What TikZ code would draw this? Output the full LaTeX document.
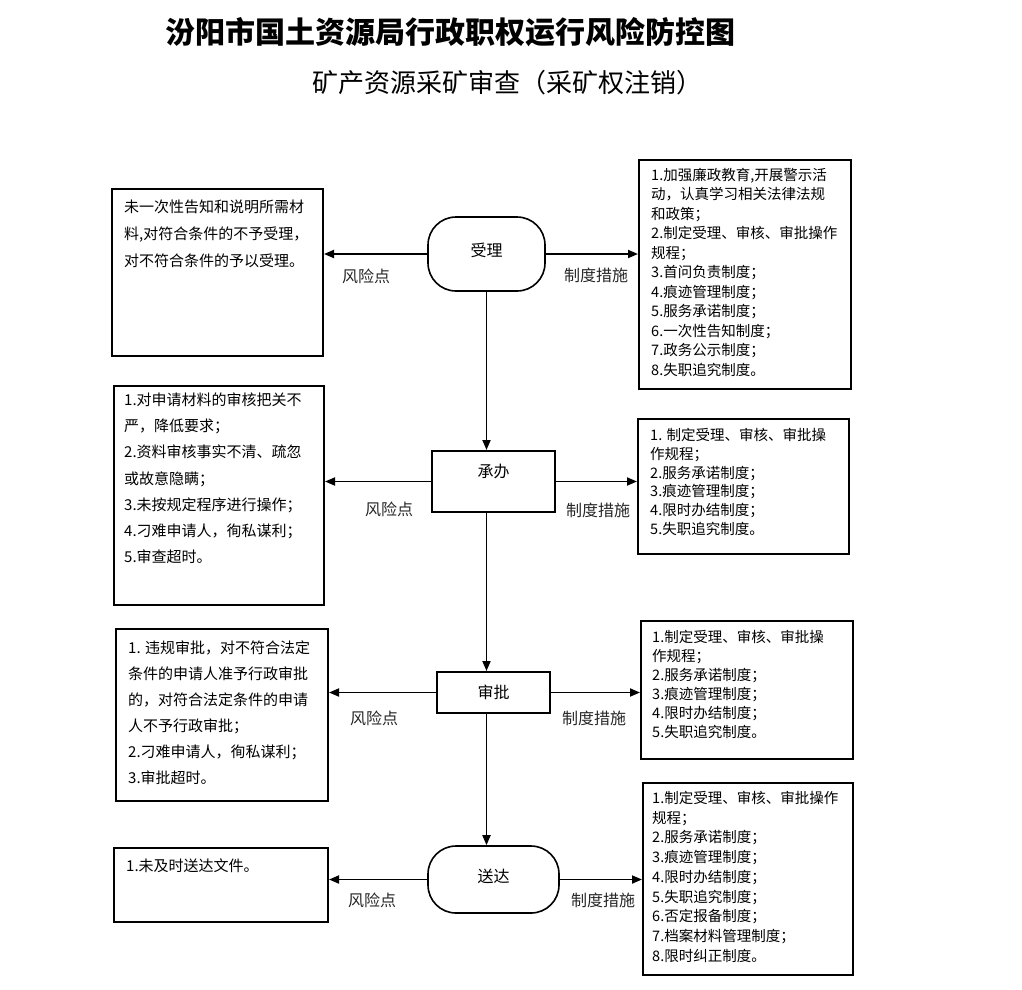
\documentclass[tikz,border=0pt]{standalone}
\usepackage{fontspec}
\setmainfont{Noto Sans CJK SC}
\usetikzlibrary{arrows.meta}
\begin{document}
\begin{tikzpicture}[x=1pt,y=-1pt,
 box/.style={draw, line width=2pt, inner sep=0pt, anchor=north west},
 term/.style={draw, line width=1.6pt, rounded corners=28pt, inner sep=0pt, font=\fontsize{16}{16}\selectfont},
 proc/.style={draw, line width=2pt, inner sep=0pt, font=\fontsize{16}{16}\selectfont},
 ltxt/.style={anchor=north west, inner sep=0pt, align=left},
 lab/.style={font=\fontsize{16}{16}\selectfont, text=black!85},
 arr/.style={line width=1.8pt, -{Triangle[length=10pt,width=8pt]}}]

\useasboundingbox (0,0) rectangle (1022,989);

% titles
\node[font=\fontsize{30}{30}\selectfont\bfseries] (title) at (450,32) {汾阳市国土资源局行政职权运行风险防控图};
\node[font=\fontsize{26}{26}\selectfont] (sub) at (507,83) {矿产资源采矿审查（采矿权注销）};

% central flow
\node[term, minimum width=117pt, minimum height=74pt, text height=14pt, text depth=10pt] (shouli) at (486.5,254) {受理};
\node[proc, minimum width=123pt, minimum height=61pt, text height=12pt, text depth=20pt] (chengban) at (493.5,481.5) {承办};
\node[proc, minimum width=113pt, minimum height=41pt] (shenpi) at (493.5,692.5) {审批};
\node[term, minimum width=131pt, minimum height=67pt, text height=14pt, text depth=9pt] (songda) at (493.5,879.5) {送达};

% left boxes
\node[box, minimum width=211pt, minimum height=167pt] (L1) at (111,188) {};
\node[box, minimum width=210pt, minimum height=219pt] (L2) at (113,385) {};
\node[box, minimum width=212pt, minimum height=172pt] (L3) at (115,628) {};
\node[box, minimum width=214pt, minimum height=74pt] (L4) at (113,847) {};

% right boxes
\node[box, minimum width=212pt, minimum height=229pt] (R1) at (638,159) {};
\node[box, minimum width=211pt, minimum height=135pt] (R2) at (637,418) {};
\node[box, minimum width=212pt, minimum height=138pt] (R3) at (640,620) {};
\node[box, minimum width=210pt, minimum height=192pt] (R4) at (642,782) {};

% left texts
\node[ltxt, font=\fontsize{15}{27}\selectfont] (L1t) at (124,199.5) {未一次性告知和说明所需材\\料,对符合条件的不予受理，\\对不符合条件的予以受理。};
\node[ltxt, font=\fontsize{15}{26.2}\selectfont] (L2t) at (124,392.5) {1.对申请材料的审核把关不\\严，降低要求；\\2.资料审核事实不清、疏忽\\或故意隐瞒；\\3.未按规定程序进行操作；\\4.刁难申请人，徇私谋利；\\5.审查超时。};
\node[ltxt, font=\fontsize{15}{26}\selectfont] (L3t) at (128,640.5) {1. 违规审批，对不符合法定\\条件的申请人准予行政审批\\的，对符合法定条件的申请\\人不予行政审批；\\2.刁难申请人，徇私谋利；\\3.审批超时。};
\node[ltxt, font=\fontsize{15}{26}\selectfont] (L4t) at (126,858.5) {1.未及时送达文件。};

% right texts
\node[ltxt, font=\fontsize{14.5}{19.5}\selectfont] (R1t) at (651,168) {1.加强廉政教育,开展警示活\\动，认真学习相关法律法规\\和政策；\\2.制定受理、审核、审批操作\\规程；\\3.首问负责制度；\\4.痕迹管理制度；\\5.服务承诺制度；\\6.一次性告知制度；\\7.政务公示制度；\\8.失职追究制度。};
\node[ltxt, font=\fontsize{14.5}{18.8}\selectfont] (R2t) at (650,428) {1. 制定受理、审核、审批操\\作规程；\\2.服务承诺制度；\\3.痕迹管理制度；\\4.限时办结制度；\\5.失职追究制度。};
\node[ltxt, font=\fontsize{14.5}{19}\selectfont] (R3t) at (652,630) {1.制定受理、审核、审批操\\作规程；\\2.服务承诺制度；\\3.痕迹管理制度；\\4.限时办结制度；\\5.失职追究制度。};
\node[ltxt, font=\fontsize{14.5}{19.7}\selectfont] (R4t) at (652,791) {1.制定受理、审核、审批操作\\规程；\\2.服务承诺制度；\\3.痕迹管理制度；\\4.限时办结制度；\\5.失职追究制度；\\6.否定报备制度；\\7.档案材料管理制度；\\8.限时纠正制度。};

% labels
\node[lab] (f1) at (366,276) {风险点};
\node[lab] (f2) at (389,509) {风险点};
\node[lab] (f3) at (374,718) {风险点};
\node[lab] (f4) at (372,900) {风险点};
\node[lab] (z1) at (596,275) {制度措施};
\node[lab] (z2) at (598,510) {制度措施};
\node[lab] (z3) at (594,718) {制度措施};
\node[lab] (z4) at (603,900) {制度措施};

% connectors
\draw[arr] (shouli.west) -- (shouli.west -| L1.east);
\draw[arr] (shouli.east) -- (shouli.east -| R1.west);
\draw[arr] (chengban.west) -- (chengban.west -| L2.east);
\draw[arr] (chengban.east) -- (chengban.east -| R2.west);
\draw[arr] (shenpi.west) -- (shenpi.west -| L3.east);
\draw[arr] (shenpi.east) -- (shenpi.east -| R3.west);
\draw[arr] (songda.west) -- (songda.west -| L4.east);
\draw[arr] (songda.east) -- (songda.east -| R4.west);

\draw[arr] (shouli.south) -- (shouli.south |- chengban.north);
\draw[arr] (shouli.south |- chengban.south) -- (shouli.south |- shenpi.north);
\draw[arr] (shouli.south |- shenpi.south) -- (shouli.south |- songda.north);
\end{tikzpicture}
\end{document}
